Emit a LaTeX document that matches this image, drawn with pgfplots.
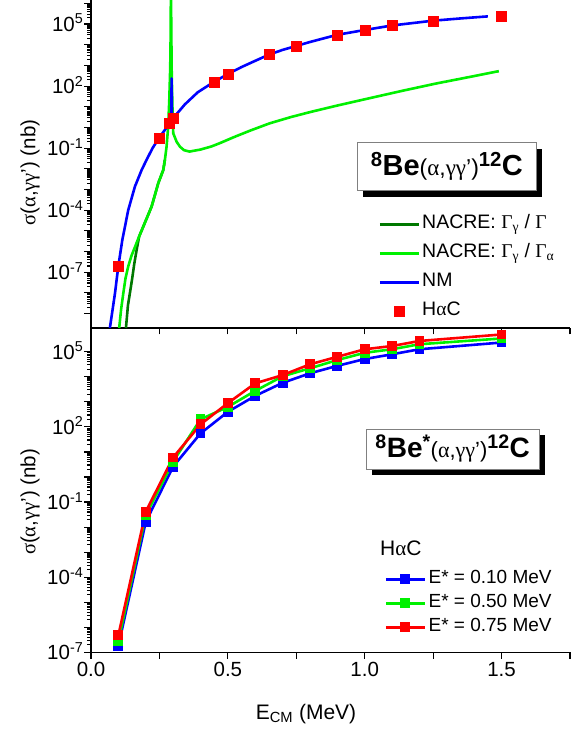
\documentclass[border=0pt]{standalone}
\usepackage{pgfplots}
\pgfplotsset{compat=1.18}
\usepackage{fontspec}
\setmainfont{Liberation Sans}
\newfontfamily\grk{Liberation Serif}

\definecolor{cblue}{RGB}{0,0,255}
\definecolor{cgreen}{RGB}{0,240,0}
\definecolor{cdgreen}{RGB}{0,120,0}
\definecolor{cred}{RGB}{255,0,0}

\newcommand{\fs}[1]{\fontsize{#1}{#1}\selectfont}
\newcommand{\sigmalabel}{{\grk σ}({\grk α},{\grk γγ}') (nb)}

\pgfplotsset{
  marklegend/.style={legend image code/.code={\draw[##1] plot coordinates {(19.5pt,0pt)};}},
  linelegend/.style={legend image code/.code={\draw[##1] (0pt,0pt) -- (39pt,0pt);}},
  linemarklegend/.style={legend image code/.code={\draw[##1, mark repeat=2, mark phase=2] plot coordinates {(0pt,0pt) (19.5pt,0pt) (39pt,0pt)};}},
}

\begin{document}
\begin{tikzpicture}
% upper panel: 8Be(a,gg')12C
\begin{axis}[name=upper, at={(0,0)}, anchor=south west,
  scale only axis, width=479pt, height=328pt,
  xmin=0, xmax=1.75, ymode=log, ymin=2e-10, ymax=1.45e6,
  axis x line*=bottom, axis y line*=left,
  axis line style={line width=1.6pt},
  tick align=outside,
  major tick length=6.5pt, minor tick length=3.5pt,
  tick style={black, line width=1.1pt},
  xtick={0,0.25,0.5,0.75,1,1.25,1.5,1.75},
  xticklabels={},
  tick label style={font=\fs{20.5}},
  yticklabel style={anchor=base east, yshift=-7.5pt, inner sep=1pt},
  ytick={1e-9,1e-8,1e-7,1e-6,1e-5,1e-4,1e-3,1e-2,1e-1,1,10,100,1e3,1e4,1e5,1e6},
  yticklabels={,,10\textsuperscript{-7},,,10\textsuperscript{-4},,,10\textsuperscript{-1},,,10\textsuperscript{2},,,10\textsuperscript{5},},
  ylabel={\sigmalabel},
  ylabel style={font=\fs{20.5}, at={(axis description cs:-0.1273,0.474)}, anchor=center},
  legend style={at={(axis description cs:0.600,0.183)}, anchor=west, draw=none, fill=none,
    font=\fs{19.5}, inner sep=0pt, row sep=4pt,
    nodes={inner xsep=0pt, inner ysep=2.5pt, text height=14pt, text depth=6pt}},
  legend cell align=left,
  linelegend,
]
\addplot[line width=2.6pt, line join=round, cdgreen] coordinates {
(0.1277,2.0e-10) (0.135,2.5e-9) (0.142,9.5e-9) (0.150,4.5e-8) (0.158,2.5e-7)
(0.167,1.26e-6) (0.176,5.4e-6) (0.191,1.6e-5) (0.206,4.8e-5) (0.2215,1.5e-4)
(0.2457,2.0e-3) (0.264,8.7e-3) (0.27,2.7e-2)
};
\addlegendentry{\hspace{2pt}NACRE: {\grk Γ}\textsubscript{\grk γ} / {\grk Γ}}
\addplot[line width=2.6pt, line join=round, cgreen] coordinates {
(0.103,2.0e-10) (0.110,1.6e-9) (0.118,9.5e-9) (0.126,5.0e-8) (0.136,1.9e-7)
(0.148,6.3e-7) (0.161,1.7e-6) (0.176,5.4e-6) (0.191,1.6e-5) (0.206,4.8e-5)
(0.2215,1.5e-4) (0.2457,2.0e-3) (0.264,8.7e-3) (0.27,2.7e-2) (0.276,0.117)
(0.282,1.1) (0.286,21) (0.2895,870) (0.291,3.2e4) (0.292,1e7)
(0.2935,3.2e4) (0.295,316) (0.2975,10) (0.3005,0.52) (0.3127,0.204)
(0.325,0.117) (0.34,0.079) (0.36,0.068) (0.40,0.085) (0.44,0.12)
(0.471,0.174) (0.52,0.33) (0.58,0.69) (0.653,1.58) (0.73,3.16)
(0.80,5.5) (0.897,11.2) (1.0,22.9) (1.14,60) (1.26,132) (1.383,275) (1.49,525)
};
\addlegendentry{\hspace{2pt}NACRE: {\grk Γ}\textsubscript{\grk γ} / {\grk Γ}\textsubscript{\grk α}}
\addplot[line width=2.6pt, line join=round, cblue] coordinates {
(0.069,2.0e-10) (0.0876,9.5e-9) (0.0997,1.9e-7) (0.1144,3.6e-6) (0.136,1.0e-4)
(0.1606,1.4e-3) (0.185,8.7e-3) (0.203,2.7e-2) (0.225,0.1) (0.248,0.30)
(0.27,0.76) (0.2935,2.1) (0.2945,234) (0.2955,2.2) (0.31,4.0)
(0.343,13) (0.39,50) (0.45,162) (0.5,380) (0.55,830)
(0.6,1660) (0.65,3300) (0.7,5600) (0.75,8700) (0.8,13500)
(0.9,30200) (1.0,51300) (1.1,85000) (1.25,1.45e5) (1.35,1.86e5) (1.45,2.34e5)
};
\addlegendentry{\hspace{2pt}NM}
\addplot[only marks, mark=square*, mark size=5pt, cred, marklegend] coordinates {
(0.1,1.9e-7) (0.25,0.3) (0.286,1.6) (0.3,2.8) (0.45,162) (0.5,380) (0.65,3300)
(0.75,8700) (0.9,30400) (1.0,51800) (1.1,90000) (1.25,1.44e5) (1.5,2.3e5)
};
\addlegendentry{\hspace{2pt}H{\grk α}C}
\node[fill=black, inner sep=0pt, minimum width=179pt, minimum height=48pt, xshift=6pt, yshift=-6pt]
  at (axis description cs:0.743,0.4915) {};
\node[draw=gray, line width=0.6pt, fill=white, inner sep=0pt, minimum width=179pt, minimum height=48pt]
  at (axis description cs:0.743,0.4915)
  {\fs{29}\bfseries\textsuperscript{8}Be{\fs{23}\mdseries({\grk α},{\grk γγ}')}\textsuperscript{12}C};
\end{axis}

% lower panel: 8Be*(a,gg')12C
\begin{axis}[name=lower, at={(0,0)}, anchor=north west,
  scale only axis, width=479pt, height=324.3pt,
  xmin=0, xmax=1.75, ymode=log, ymin=1e-7, ymax=8.9e5,
  axis x line*=bottom, axis y line*=left,
  axis line style={line width=1.6pt},
  tick align=outside,
  major tick length=6.5pt, minor tick length=3.5pt,
  tick style={black, line width=1.1pt},
  xtick={0,0.25,0.5,0.75,1,1.25,1.5,1.75},
  xticklabels={0.0,,0.5,,1.0,,1.5,},
  tick label style={font=\fs{20.5}},
  yticklabel style={anchor=base east, yshift=-7.5pt, inner sep=1pt},
  ytick={1e-7,1e-6,1e-5,1e-4,1e-3,1e-2,1e-1,1,10,100,1e3,1e4,1e5},
  yticklabels={10\textsuperscript{-7},,,10\textsuperscript{-4},,,10\textsuperscript{-1},,,10\textsuperscript{2},,,10\textsuperscript{5}},
  xlabel={E\textsubscript{CM} (MeV)},
  xlabel style={font=\fs{21}, anchor=center, at={(axis description cs:0.4489,-0.190)}},
  ylabel={\sigmalabel},
  ylabel style={font=\fs{20.5}, at={(axis description cs:-0.1273,0.4635)}, anchor=center},
  legend style={at={(axis description cs:0.6123,0.151)}, anchor=west, draw=none, fill=none,
    font=\fs{19}, inner sep=0pt, row sep=0pt,
    nodes={inner sep=2.5pt, text height=14pt, text depth=5pt}},
  legend cell align=left,
  linemarklegend,
]
\addplot[cblue, line width=2.6pt, mark=square*, mark size=3.6pt, mark options={fill=cblue}] coordinates {
(0.1,1.8e-7) (0.2,1.6e-2) (0.3,2.6) (0.4,55) (0.5,400) (0.6,1740) (0.7,5750)
(0.8,13800) (0.9,27500) (1.0,51300) (1.1,79400) (1.2,1.26e5) (1.5,2.34e5)
};
\addlegendentry{E* = 0.10 MeV}
\addplot[cgreen, line width=2.6pt, mark=square*, mark size=3.6pt, mark options={fill=cgreen}] coordinates {
(0.1,2.8e-7) (0.2,3.0e-2) (0.3,4.1) (0.4,200) (0.5,630) (0.6,2750) (0.7,10500)
(0.8,21900) (0.9,46800) (1.0,91200) (1.1,1.26e5) (1.2,2.0e5) (1.5,3.4e5)
};
\addlegendentry{E* = 0.50 MeV}
\addplot[cred, line width=2.6pt, mark=square*, mark size=3.6pt, mark options={fill=cred}] coordinates {
(0.1,4.8e-7) (0.2,4.1e-2) (0.3,6.0) (0.4,126) (0.5,890) (0.6,5500) (0.7,11700)
(0.8,31600) (0.9,63100) (1.0,1.26e5) (1.1,1.7e5) (1.2,2.7e5) (1.5,4.9e5)
};
\addlegendentry{E* = 0.75 MeV}
\node[anchor=west, font=\fs{21}, inner sep=0pt] at (axis description cs:0.6033,0.3207) {H{\grk α}C};
\node[fill=black, inner sep=0pt, minimum width=173pt, minimum height=40pt, xshift=6pt, yshift=-6pt]
  at (axis description cs:0.755,0.627) {};
\node[draw=gray, line width=0.6pt, fill=white, inner sep=0pt, minimum width=173pt, minimum height=40pt]
  at (axis description cs:0.755,0.627)
  {\fs{28}\bfseries\textsuperscript{8}Be\textsuperscript{*}{\fs{22}\mdseries({\grk α},{\grk γγ}')}\textsuperscript{12}C};
\end{axis}

\pgfresetboundingbox
\path[use as bounding box] (-91pt,-407pt) rectangle (479pt,328pt);
\end{tikzpicture}
\end{document}
